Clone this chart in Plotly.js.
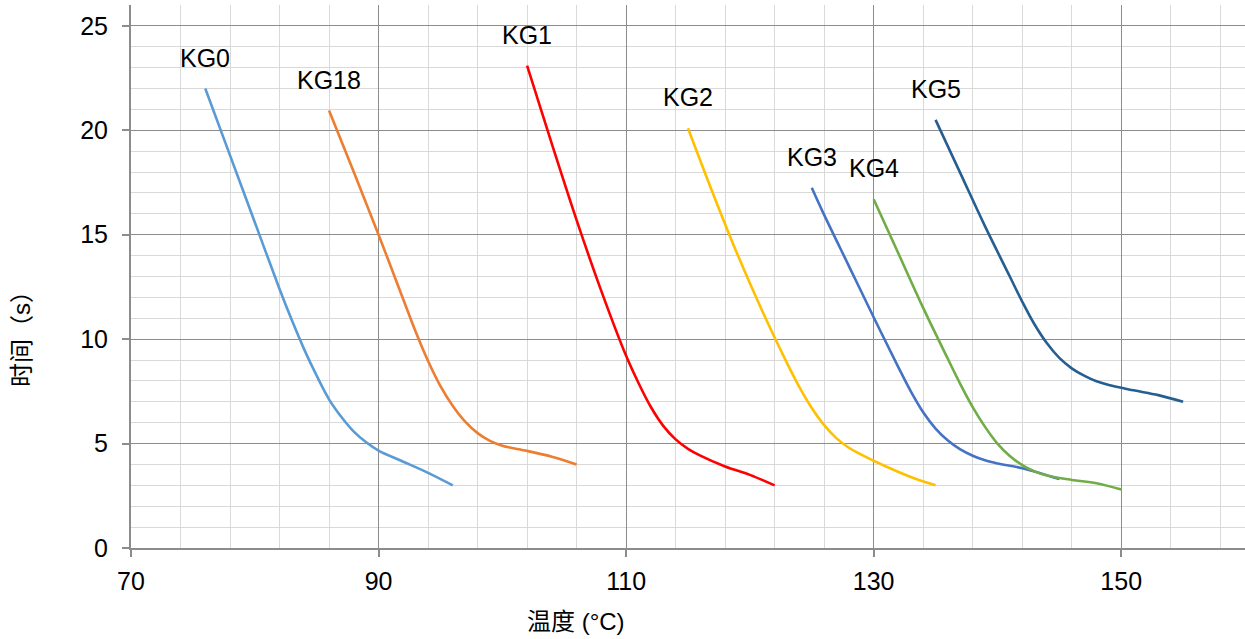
<!DOCTYPE html>
<html>
<head>
<meta charset="utf-8">
<script src="https://cdn.plot.ly/plotly-3.0.1.min.js"></script>
<style>html,body{margin:0;padding:0;background:#fff}#chart{width:1245px;height:639px}</style>
</head>
<body>
<div id="chart"></div>
<script>
const seriesNames = ['KG0','KG18','KG1','KG2','KG3','KG4','KG5'];
const seriesColors = ['#5B9BD5','#ED7D31','#FF0000','#FFC000','#4472C4','#70AD47','#255E91'];

const kg0X = [76,78,80,82,83,84,85,86,87,88,89,90,92,94,96];
const kg0Y = [22,18.8,15.6,12.4,10.9,9.5,8.25,7.12,6.27,5.57,5.06,4.66,4.13,3.6,3];
const kg18X = [86,88,90,92,93,94,95,96,97,98,99,100,102,104,106];
const kg18Y = [20.95,18.0,15,11.9,10.35,8.95,7.75,6.8,6.05,5.5,5.13,4.9,4.65,4.37,4];
const kg1X = [102,104,106,108,110,111,112,113,114,115,116,118,120,122];
const kg1Y = [23.1,19.35,15.7,12.3,9.2,7.9,6.75,5.85,5.2,4.75,4.42,3.9,3.5,3];
const kg2X = [115,117,119,121,123,124,125,126,127,128,129,131,133,135];
const kg2Y = [20.1,17.0,14.05,11.35,8.85,7.7,6.7,5.88,5.25,4.8,4.47,3.9,3.4,3];
const kg3X = [125,126,128,130,132,133,134,135,136,137,138,139,140,142,145];
const kg3Y = [17.25,15.95,13.5,11.05,8.65,7.5,6.5,5.72,5.15,4.72,4.42,4.2,4.05,3.82,3.3];
const kg4X = [130,132,134,136,137,138,139,140,141,142,143,144,146,148,150];
const kg4Y = [16.7,14.1,11.5,9.05,7.85,6.75,5.8,5.0,4.4,3.97,3.67,3.47,3.26,3.1,2.8];
const kg5X = [135,137,139,141,142,143,144,145,146,147,148,149,151,153,155];
const kg5Y = [20.5,17.95,15.4,13.0,11.8,10.7,9.8,9.1,8.6,8.25,7.98,7.8,7.55,7.32,7.0];

const labelX = [76,86,102,115,125,130,135];
const labelY = [23.45,22.4,24.55,21.6,18.7,18.2,22.0];

const xsAll = [kg0X,kg18X,kg1X,kg2X,kg3X,kg4X,kg5X];
const ysAll = [kg0Y,kg18Y,kg1Y,kg2Y,kg3Y,kg4Y,kg5Y];

const xTitle = '温度 (°C)';
const yTitle = '时间（s）';

const traces = seriesNames.map((n,i)=>({
  type:'scatter', mode:'lines', name:n,
  x:xsAll[i], y:ysAll[i],
  line:{color:seriesColors[i], width:2.6, shape:'spline', smoothing:1},
  hoverinfo:'skip'
}));

const font = 'Liberation Sans, Arial, sans-serif';
const cjk = 'Liberation Sans, Noto Sans CJK SC, sans-serif';

const annotations = seriesNames.map((n,i)=>({
  x:labelX[i], y:labelY[i], xref:'x', yref:'y', text:n, showarrow:false,
  font:{family:font, size:25, color:'#000'}
}));
annotations.push({xref:'paper', yref:'paper', x:(576-131)/1114, y:-(621-548)/543, xanchor:'center', yanchor:'middle',
  text:xTitle, showarrow:false, font:{family:cjk, size:24, color:'#000'}});
annotations.push({xref:'paper', yref:'paper', x:-(131-21)/1114, y:(548-333)/543, xanchor:'center', yanchor:'middle',
  text:yTitle, textangle:-90, showarrow:false, font:{family:cjk, size:24, color:'#000'}});

const layout = {
  width:1245, height:639,
  margin:{l:131, r:0, t:5, b:91},
  paper_bgcolor:'#fff', plot_bgcolor:'#fff',
  showlegend:false,
  xaxis:{range:[70,160], tick0:70, dtick:20, showgrid:true, gridcolor:'#8c8c8c', gridwidth:1,
    zeroline:false, showline:true, linecolor:'#8c8c8c', linewidth:2,
    ticks:'outside', ticklen:7, tickcolor:'#8c8c8c', tickwidth:2,
    tickfont:{family:font, size:25, color:'#000'}, ticklabelstandoff:3,
    minor:{dtick:4, tick0:70, showgrid:true, gridcolor:'#d9d9d9', gridwidth:1, ticks:''}},
  yaxis:{range:[0,26], tick0:0, dtick:5, showgrid:true, gridcolor:'#8c8c8c', gridwidth:1,
    zeroline:false, showline:true, linecolor:'#8c8c8c', linewidth:2,
    ticks:'outside', ticklen:7, tickcolor:'#8c8c8c', tickwidth:2,
    tickfont:{family:font, size:25, color:'#000'}, ticklabelstandoff:9,
    minor:{dtick:1, tick0:0, showgrid:true, gridcolor:'#d9d9d9', gridwidth:1, ticks:''}},
  annotations:annotations
};

Plotly.newPlot('chart', traces, layout, {displayModeBar:false, staticPlot:true});
</script>
</body>
</html>
